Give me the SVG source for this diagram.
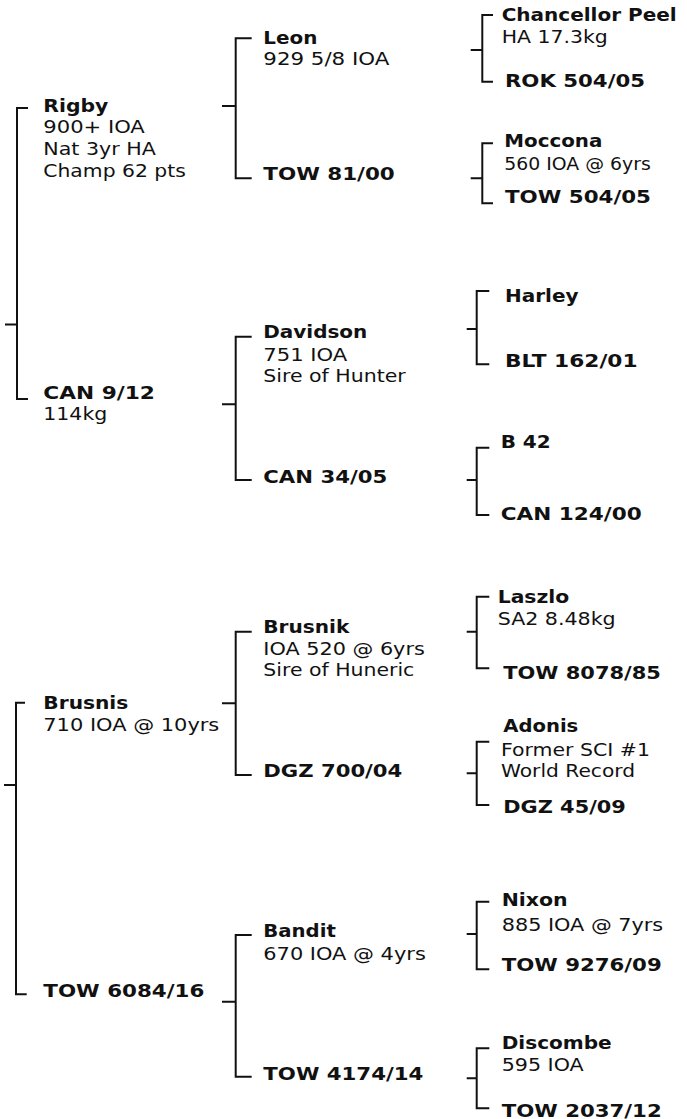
<svg xmlns="http://www.w3.org/2000/svg" width="687" height="1119" viewBox="0 0 687 1119">
<style>
text{font-family:"DejaVu Sans","Liberation Sans",sans-serif;font-size:18px;fill:#111;}
.b{font-weight:bold;}
.c{fill:none;stroke:#111;stroke-width:2;}
</style>
<rect width="687" height="1119" fill="#fff"/>
<g id="connectors" class="c">
<path d="M5 324.5H17M28 108H17V399H28"/>
<path d="M4 785H16M25 702.7H16V994.3H26.7"/>
<path d="M222 106H235.7M251.7 38.3H235.7V178.3H251.7"/>
<path d="M222 404.3H235.7M251.7 336.7H235.7V480H251.7"/>
<path d="M222 703.3H235.7M251.7 631.7H235.7V775H251.7"/>
<path d="M222 1001.7H235.7M251.7 935H235.7V1076.7H251.7"/>
<path d="M470.7 50H482.3M493 15H482.3V81.7H493"/>
<path d="M470.7 178.3H482.3M493 143.3H482.3V203.3H493"/>
<path d="M466.7 329H476.7M489.3 291H476.7V364.3H489.3"/>
<path d="M466.7 480H476.7M489.3 447.7H476.7V515H489.3"/>
<path d="M466.7 631.7H476.7M489.3 596.7H476.7V668.3H489.3"/>
<path d="M466.7 773.3H476.7M489.3 741.7H476.7V805H489.3"/>
<path d="M466.7 934H476.7M489.3 901.7H476.7V969.3H489.3"/>
<path d="M466.7 1078.3H476.7M489.3 1048.3H476.7V1108.3H489.3"/>
</g>
<g id="rigby">
<text class="b" x="43.3" y="111.7" textLength="65" lengthAdjust="spacingAndGlyphs">Rigby</text>
<text x="43.3" y="133.3" textLength="101.5" lengthAdjust="spacingAndGlyphs">900+ IOA</text>
<text x="43.3" y="155.3" textLength="112.5" lengthAdjust="spacingAndGlyphs">Nat 3yr HA</text>
<text x="43.3" y="176.7" textLength="142.5" lengthAdjust="spacingAndGlyphs">Champ 62 pts</text>
</g>
<g id="can912">
<text class="b" x="43.3" y="399" textLength="111.5" lengthAdjust="spacingAndGlyphs">CAN 9/12</text>
<text x="43.3" y="420" textLength="64" lengthAdjust="spacingAndGlyphs">114kg</text>
</g>
<g id="brusnis">
<text class="b" x="43.3" y="709.3" textLength="85" lengthAdjust="spacingAndGlyphs">Brusnis</text>
<text x="43.3" y="731" textLength="176" lengthAdjust="spacingAndGlyphs">710 IOA @ 10yrs</text>
</g>
<g id="tow6084">
<text class="b" x="43.3" y="996.7" textLength="161" lengthAdjust="spacingAndGlyphs">TOW 6084/16</text>
</g>
<g id="leon">
<text class="b" x="263.3" y="44.3" textLength="54" lengthAdjust="spacingAndGlyphs">Leon</text>
<text x="263.3" y="65" textLength="126" lengthAdjust="spacingAndGlyphs">929 5/8 IOA</text>
</g>
<g id="tow8100">
<text class="b" x="263.3" y="180" textLength="131.5" lengthAdjust="spacingAndGlyphs">TOW 81/00</text>
</g>
<g id="davidson">
<text class="b" x="263.3" y="338.3" textLength="104" lengthAdjust="spacingAndGlyphs">Davidson</text>
<text x="263.3" y="361" textLength="84" lengthAdjust="spacingAndGlyphs">751 IOA</text>
<text x="263.3" y="381.7" textLength="142.5" lengthAdjust="spacingAndGlyphs">Sire of Hunter</text>
</g>
<g id="can3405">
<text class="b" x="263.3" y="482.7" textLength="124" lengthAdjust="spacingAndGlyphs">CAN 34/05</text>
</g>
<g id="brusnik">
<text class="b" x="263.3" y="633.3" textLength="86" lengthAdjust="spacingAndGlyphs">Brusnik</text>
<text x="263.3" y="655" textLength="161.5" lengthAdjust="spacingAndGlyphs">IOA 520 @ 6yrs</text>
<text x="263.3" y="676" textLength="151" lengthAdjust="spacingAndGlyphs">Sire of Huneric</text>
</g>
<g id="dgz70004">
<text class="b" x="263.3" y="776.7" textLength="139" lengthAdjust="spacingAndGlyphs">DGZ 700/04</text>
</g>
<g id="bandit">
<text class="b" x="263.3" y="936.7" textLength="72.5" lengthAdjust="spacingAndGlyphs">Bandit</text>
<text x="263.3" y="960" textLength="162.5" lengthAdjust="spacingAndGlyphs">670 IOA @ 4yrs</text>
</g>
<g id="tow417414">
<text class="b" x="263.3" y="1080" textLength="160" lengthAdjust="spacingAndGlyphs">TOW 4174/14</text>
</g>
<g id="chancellor">
<text class="b" x="501.7" y="21" textLength="175" lengthAdjust="spacingAndGlyphs">Chancellor Peel</text>
<text x="501.7" y="42.7" textLength="106" lengthAdjust="spacingAndGlyphs">HA 17.3kg</text>
</g>
<g id="rok50405">
<text class="b" x="505" y="86.7" textLength="140" lengthAdjust="spacingAndGlyphs">ROK 504/05</text>
</g>
<g id="moccona">
<text class="b" x="504.3" y="146.7" textLength="98" lengthAdjust="spacingAndGlyphs">Moccona</text>
<text x="504.3" y="170" textLength="146.5" lengthAdjust="spacingAndGlyphs">560 IOA @ 6yrs</text>
</g>
<g id="tow50405">
<text class="b" x="505" y="203.3" textLength="146" lengthAdjust="spacingAndGlyphs">TOW 504/05</text>
</g>
<g id="harley">
<text class="b" x="505" y="301.7" textLength="73.5" lengthAdjust="spacingAndGlyphs">Harley</text>
</g>
<g id="blt16201">
<text class="b" x="505" y="366.7" textLength="132.5" lengthAdjust="spacingAndGlyphs">BLT 162/01</text>
</g>
<g id="b42">
<text class="b" x="500.7" y="448.3" textLength="50" lengthAdjust="spacingAndGlyphs">B 42</text>
</g>
<g id="can12400">
<text class="b" x="500.7" y="520" textLength="141" lengthAdjust="spacingAndGlyphs">CAN 124/00</text>
</g>
<g id="laszlo">
<text class="b" x="497.7" y="603.3" textLength="71.5" lengthAdjust="spacingAndGlyphs">Laszlo</text>
<text x="497.7" y="625" textLength="118" lengthAdjust="spacingAndGlyphs">SA2 8.48kg</text>
</g>
<g id="tow807885">
<text class="b" x="503.3" y="679.3" textLength="157.5" lengthAdjust="spacingAndGlyphs">TOW 8078/85</text>
</g>
<g id="adonis">
<text class="b" x="503.3" y="731.7" textLength="75" lengthAdjust="spacingAndGlyphs">Adonis</text>
<text x="501" y="756" textLength="149" lengthAdjust="spacingAndGlyphs">Former SCI #1</text>
<text x="501" y="777.3" textLength="134" lengthAdjust="spacingAndGlyphs">World Record</text>
</g>
<g id="dgz4509">
<text class="b" x="503.3" y="813.3" textLength="122.5" lengthAdjust="spacingAndGlyphs">DGZ 45/09</text>
</g>
<g id="nixon">
<text class="b" x="501.7" y="905.7" textLength="66" lengthAdjust="spacingAndGlyphs">Nixon</text>
<text x="501.7" y="931" textLength="161.5" lengthAdjust="spacingAndGlyphs">885 IOA @ 7yrs</text>
</g>
<g id="tow927609">
<text class="b" x="501.7" y="971" textLength="160" lengthAdjust="spacingAndGlyphs">TOW 9276/09</text>
</g>
<g id="discombe">
<text class="b" x="501.7" y="1049" textLength="110" lengthAdjust="spacingAndGlyphs">Discombe</text>
<text x="501.7" y="1071" textLength="82" lengthAdjust="spacingAndGlyphs">595 IOA</text>
</g>
<g id="tow203712">
<text class="b" x="501.7" y="1116.7" textLength="160" lengthAdjust="spacingAndGlyphs">TOW 2037/12</text>
</g>
</svg>
